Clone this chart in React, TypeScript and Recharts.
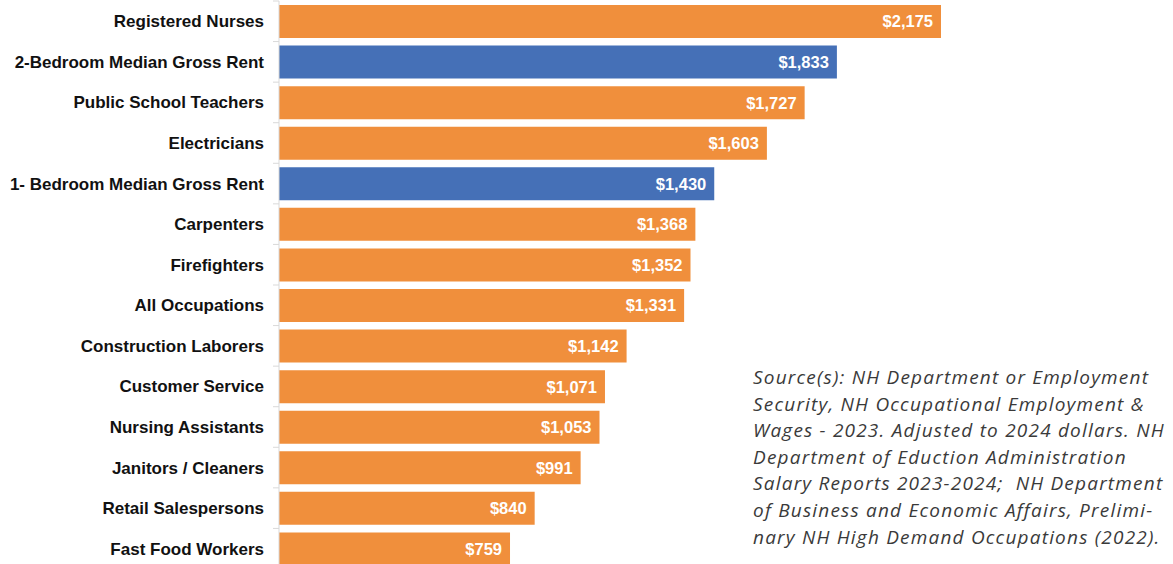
import React from "react";
import { BarChart, Bar, XAxis, YAxis, Cell, LabelList } from "recharts";

const categories = [
  "Registered Nurses",
  "2-Bedroom Median Gross Rent",
  "Public School Teachers",
  "Electricians",
  "1- Bedroom Median Gross Rent",
  "Carpenters",
  "Firefighters",
  "All Occupations",
  "Construction Laborers",
  "Customer Service",
  "Nursing Assistants",
  "Janitors / Cleaners",
  "Retail Salespersons",
  "Fast Food Workers",
];

const monthlyValues = [2175, 1833, 1727, 1603, 1430, 1368, 1352, 1331, 1142, 1071, 1053, 991, 840, 759];

const rentCategories = ["2-Bedroom Median Gross Rent", "1- Bedroom Median Gross Rent"];

const sourceLines = [
  "Source(s): NH Department or Employment",
  "Security, NH Occupational Employment &",
  "Wages - 2023. Adjusted to 2024 dollars. NH",
  "Department of Eduction Administration",
  "Salary Reports 2023-2024;  NH Department",
  "of Business and Economic Affairs, Prelimi-",
  "nary NH High Demand Occupations (2022).",
];

const data = categories.map((name, i) => ({ name, value: monthlyValues[i] }));

const ORANGE = "#F08F3C";
const BLUE = "#4570B7";
const AXIS_X = 279;
const BAND = 568 / categories.length;

function CategoryTick({ x, y, payload, index }: any) {
  return (
    <g>
      <text
        x={x}
        y={y}
        dy={6}
        textAnchor="end"
        fill="#111"
        fontFamily="'Liberation Sans', Arial, sans-serif"
        fontWeight="bold"
        fontSize={17}
      >
        {payload.value}
      </text>
      <line x1={AXIS_X - 6} x2={AXIS_X} y1={y - BAND / 2} y2={y - BAND / 2} stroke="#d9d9d9" />
      {index === categories.length - 1 && (
        <line x1={AXIS_X - 6} x2={AXIS_X} y1={y + BAND / 2} y2={y + BAND / 2} stroke="#d9d9d9" />
      )}
    </g>
  );
}

export default function App() {
  return (
    <div
      style={{
        position: "fixed",
        left: 0,
        top: 0,
        width: 1173,
        height: 564,
        overflow: "hidden",
        background: "#fff",
      }}
    >
      <BarChart
        width={1173}
        height={570}
        data={data}
        layout="vertical"
        margin={{ top: 1, right: 232, bottom: 1, left: 0 }}
        barSize={33}
      >
        <XAxis type="number" domain={[0, 2175]} hide />
        <YAxis
          type="category"
          dataKey="name"
          width={AXIS_X}
          axisLine={{ stroke: "#d9d9d9" }}
          tickLine={false}
          tickMargin={9}
          tick={<CategoryTick />}
          interval={0}
        />
        <Bar dataKey="value" isAnimationActive={false}>
          {data.map((d) => (
            <Cell key={d.name} fill={rentCategories.includes(d.name) ? BLUE : ORANGE} />
          ))}
          <LabelList
            dataKey="value"
            position="insideRight"
            offset={8}
            fill="#fff"
            fontFamily="'Liberation Sans', Arial, sans-serif"
            fontWeight="bold"
            fontSize={16.5}
            formatter={(v: any) => `$${Number(v).toLocaleString("en-US")}`}
          />
        </Bar>
      </BarChart>
      <div
        style={{
          position: "absolute",
          left: 753,
          top: 364,
          fontFamily: "'Open Sans', sans-serif",
          fontStyle: "italic",
          fontSize: 19,
          letterSpacing: "1.2px",
          lineHeight: "26.6px",
          color: "#3a3a3a",
          whiteSpace: "pre",
        }}
      >
        {sourceLines.map((l) => (
          <div key={l}>{l}</div>
        ))}
      </div>
    </div>
  );
}
